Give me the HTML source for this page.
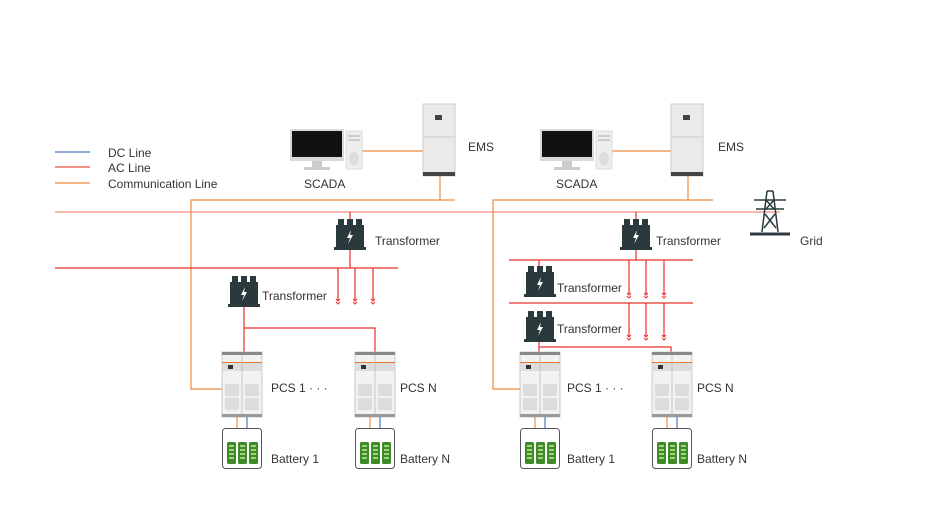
<!DOCTYPE html>
<html><head><meta charset="utf-8"><style>
body{margin:0;background:#fff;}
svg{display:block;font-family:"Liberation Sans",sans-serif;}
text{fill:#333;font-size:12px;}
</style></head><body>
<svg width="936" height="528" viewBox="0 0 936 528" xmlns="http://www.w3.org/2000/svg">
<defs>
<g id="ar"><path d="M-2 -3 L0 -1 L2 -3 M-2 0 L0 2 L2 0" stroke="#e8302a" stroke-width="1" fill="none"/></g>
<g id="tr">
 <rect x="3" y="0" width="6" height="8" fill="#2a3a3c"/><rect x="12" y="0" width="6" height="8" fill="#2a3a3c"/><rect x="21" y="0" width="6" height="8" fill="#2a3a3c"/>
 <rect x="1" y="6" width="28" height="24" fill="#2a3a3c"/>
 <rect x="-1" y="28" width="32" height="3" fill="#2a3a3c"/>
 <path d="M16 11 L12 19 L15 19 L13 25 L18 16 L15 16 Z" fill="#fff"/>
</g>
<g id="pcs">
 <rect x="0" y="0" width="40" height="65" fill="#f2f2f2" stroke="#bbb" stroke-width="0.8"/>
 <rect x="0" y="0" width="40" height="3" fill="#888"/>
 <rect x="0" y="10" width="40" height="1.2" fill="#e67a2e"/>
 <rect x="1" y="11" width="38" height="8" fill="#ddd"/>
 <rect x="6" y="13" width="5" height="4" fill="#333"/>
 <line x1="20" y1="3" x2="20" y2="63" stroke="#bbb" stroke-width="0.8"/>
 <rect x="3" y="32" width="14" height="12" fill="#ddd"/><rect x="23" y="32" width="14" height="12" fill="#ddd"/>
 <rect x="3" y="46" width="14" height="12" fill="#ddd"/><rect x="23" y="46" width="14" height="12" fill="#ddd"/>
 <rect x="0" y="62" width="40" height="3" fill="#999"/>
</g>
<g id="bat">
 <rect x="0.5" y="0.5" width="39" height="40" rx="3" fill="#fff" stroke="#555" stroke-width="1"/>
 <g fill="#3e8b2a">
  <rect x="5" y="14" width="9" height="22" rx="1.5"/><rect x="16" y="14" width="9" height="22" rx="1.5"/><rect x="27" y="14" width="9" height="22" rx="1.5"/>
 </g>
 <g fill="#9fd47a"><rect x="7" y="17" width="5" height="2"/><rect x="7" y="21" width="5" height="2"/><rect x="7" y="25" width="5" height="2"/><rect x="7" y="29" width="5" height="2"/>
 <rect x="18" y="17" width="5" height="2"/><rect x="18" y="21" width="5" height="2"/><rect x="18" y="25" width="5" height="2"/><rect x="18" y="29" width="5" height="2"/>
 <rect x="29" y="17" width="5" height="2"/><rect x="29" y="21" width="5" height="2"/><rect x="29" y="25" width="5" height="2"/><rect x="29" y="29" width="5" height="2"/></g>
</g>
<g id="pc">
 <rect x="0" y="0" width="54" height="32" fill="#d8d8d8"/>
 <rect x="2" y="2" width="50" height="26" fill="#111"/>
 <rect x="22" y="32" width="10" height="6" fill="#ccc"/><rect x="14" y="38" width="26" height="3" fill="#ccc"/>
 <rect x="56" y="2" width="16" height="38" fill="#eee" stroke="#ddd"/>
 <rect x="58" y="6" width="12" height="2" fill="#ccc"/><rect x="58" y="10" width="12" height="2" fill="#ccc"/>
 <ellipse cx="64" cy="30" rx="5" ry="7" fill="#ddd"/>
</g>
<g id="ems">
 <rect x="0" y="0" width="32" height="72" fill="#eaeaea" stroke="#ccc"/>
 <line x1="0" y1="33" x2="32" y2="33" stroke="#ccc"/>
 <rect x="12" y="11" width="7" height="5" fill="#444"/>
 <rect x="0" y="68" width="32" height="4" fill="#444"/>
</g>
</defs>

<line x1="55" y1="152" x2="90" y2="152" stroke="#4a7ab8" stroke-width="1.3"/>
<line x1="55" y1="167" x2="90" y2="167" stroke="#e8503e" stroke-width="1.3"/>
<line x1="55" y1="183" x2="90" y2="183" stroke="#f08a3e" stroke-width="1.3"/>
<text x="108" y="157">DC Line</text>
<text x="108" y="172">AC Line</text>
<text x="108" y="188">Communication Line</text>

<line x1="55" y1="212" x2="780" y2="212" stroke="#f4a090" stroke-width="1.5"/>

<line x1="362" y1="151" x2="423" y2="151" stroke="#f08a3e" stroke-width="1.2"/>
<line x1="440" y1="176" x2="440" y2="200" stroke="#f08a3e" stroke-width="1.2"/>
<polyline points="455,200 191,200 191,389 222,389" fill="none" stroke="#f08a3e" stroke-width="1.2"/>
<use href="#pc" x="290" y="129"/>
<use href="#ems" x="423" y="104"/>
<text x="304" y="188">SCADA</text>
<text x="468" y="151">EMS</text>

<g stroke="#e8302a" stroke-width="1.2" fill="none">
 <line x1="350" y1="212" x2="350" y2="220"/>
 <line x1="350" y1="250" x2="350" y2="268"/>
 <line x1="55" y1="268" x2="398" y2="268"/>
 <line x1="338" y1="268" x2="338" y2="300"/><line x1="355" y1="268" x2="355" y2="300"/><line x1="373" y1="268" x2="373" y2="300"/>
 <line x1="244" y1="307" x2="244" y2="352"/>
 <polyline points="244,328 375,328 375,352"/>
</g>
<use href="#ar" x="338" y="302"/><use href="#ar" x="355" y="302"/><use href="#ar" x="373" y="302"/>
<use href="#tr" x="335" y="219"/>
<text x="375" y="245">Transformer</text>
<use href="#tr" x="229" y="276"/>
<text x="262" y="300">Transformer</text>
<use href="#pcs" x="222" y="352"/><use href="#pcs" x="355" y="352"/>
<text x="271" y="392">PCS 1 · · ·</text><text x="400" y="392">PCS N</text>
<g stroke-width="1.2"><line x1="237" y1="417" x2="237" y2="428" stroke="#f08a3e"/><line x1="247" y1="417" x2="247" y2="428" stroke="#4a7ab8"/>
<line x1="370" y1="417" x2="370" y2="428" stroke="#f08a3e"/><line x1="380" y1="417" x2="380" y2="428" stroke="#4a7ab8"/></g>
<use href="#bat" x="222" y="428"/><use href="#bat" x="355" y="428"/>
<text x="271" y="463">Battery 1</text><text x="400" y="463">Battery N</text>

<line x1="612" y1="151" x2="671" y2="151" stroke="#f08a3e" stroke-width="1.2"/>
<line x1="688" y1="176" x2="688" y2="200" stroke="#f08a3e" stroke-width="1.2"/>
<polyline points="713,200 493,200 493,389 520,389" fill="none" stroke="#f08a3e" stroke-width="1.2"/>
<use href="#pc" x="540" y="129"/>
<use href="#ems" x="671" y="104"/>
<text x="556" y="188">SCADA</text>
<text x="718" y="151">EMS</text>

<g stroke="#2a3a3c" stroke-width="1.5" fill="none">
 <line x1="762" y1="232" x2="767" y2="191"/><line x1="778" y1="232" x2="773" y2="191"/>
 <line x1="767" y1="191" x2="773" y2="191"/>
 <line x1="754" y1="200" x2="786" y2="200"/><line x1="756" y1="209" x2="784" y2="209"/>
 <line x1="766" y1="200" x2="774" y2="209"/><line x1="774" y1="200" x2="766" y2="209"/>
 <line x1="765" y1="214" x2="776" y2="228"/><line x1="775" y1="214" x2="764" y2="228"/>
 <line x1="750" y1="234" x2="790" y2="234" stroke-width="3"/>
</g>
<text x="800" y="245">Grid</text>

<g stroke="#e8302a" stroke-width="1.2" fill="none">
 <line x1="636" y1="212" x2="636" y2="220"/>
 <line x1="636" y1="250" x2="636" y2="260"/>
 <line x1="509" y1="260" x2="693" y2="260"/>
 <line x1="539" y1="260" x2="539" y2="266"/>
 <line x1="509" y1="303" x2="693" y2="303"/>
 <line x1="629" y1="260" x2="629" y2="294"/><line x1="646" y1="260" x2="646" y2="294"/><line x1="664" y1="260" x2="664" y2="294"/>
 <line x1="629" y1="303" x2="629" y2="336"/><line x1="646" y1="303" x2="646" y2="336"/><line x1="664" y1="303" x2="664" y2="336"/>
 <line x1="539" y1="342" x2="539" y2="352"/>
 <polyline points="539,347 671,347 671,352"/>
</g>
<use href="#ar" x="629" y="296"/><use href="#ar" x="646" y="296"/><use href="#ar" x="664" y="296"/>
<use href="#ar" x="629" y="338"/><use href="#ar" x="646" y="338"/><use href="#ar" x="664" y="338"/>
<use href="#tr" x="621" y="219"/>
<text x="656" y="245">Transformer</text>
<use href="#tr" x="525" y="266"/>
<text x="557" y="292">Transformer</text>
<use href="#tr" x="525" y="311"/>
<text x="557" y="333">Transformer</text>
<use href="#pcs" x="520" y="352"/><use href="#pcs" x="652" y="352"/>
<text x="567" y="392">PCS 1 · · ·</text><text x="697" y="392">PCS N</text>
<g stroke-width="1.2"><line x1="535" y1="417" x2="535" y2="428" stroke="#f08a3e"/><line x1="545" y1="417" x2="545" y2="428" stroke="#4a7ab8"/>
<line x1="667" y1="417" x2="667" y2="428" stroke="#f08a3e"/><line x1="677" y1="417" x2="677" y2="428" stroke="#4a7ab8"/></g>
<use href="#bat" x="520" y="428"/><use href="#bat" x="652" y="428"/>
<text x="567" y="463">Battery 1</text><text x="697" y="463">Battery N</text>
</svg>
</body></html>
